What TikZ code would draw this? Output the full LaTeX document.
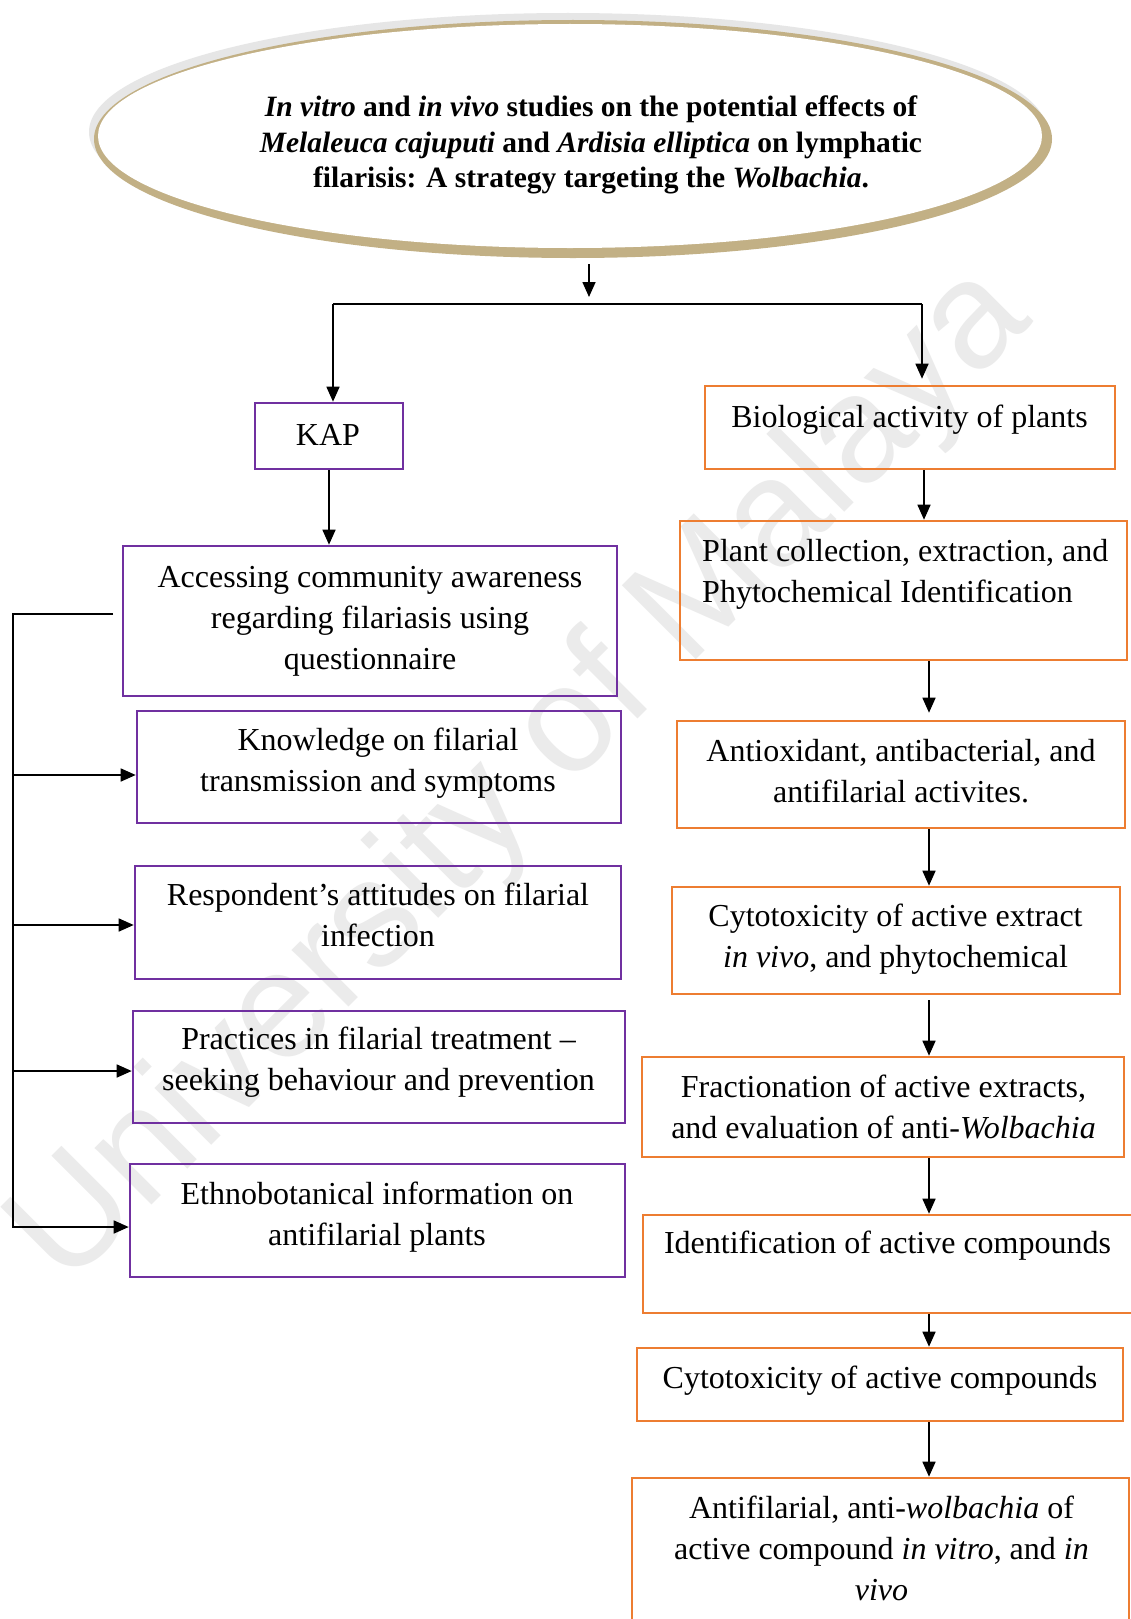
\documentclass[tikz,border=0pt]{standalone}
\usepackage{fontspec}
\setmainfont{Liberation Serif}
\newfontfamily\wmfont{Liberation Sans}
\usetikzlibrary{arrows.meta,shapes.geometric,calc}
\definecolor{kpurple}{HTML}{7030A0}
\definecolor{korange}{HTML}{ED7D31}
\definecolor{kgold}{HTML}{C2B085}
\definecolor{kgrey}{HTML}{E6E6E6}
\definecolor{kwm}{HTML}{EBEBEB}
\begin{document}
\begin{tikzpicture}[x=1pt,y=-1pt,
  pbox/.style={draw=kpurple,line width=2.6pt,rectangle,inner sep=0pt},
  obox/.style={draw=korange,line width=2.6pt,rectangle,inner sep=0pt},
  txt/.style={inner sep=0pt,align=center,font=\fontsize{32}{41}\selectfont},
  ttl/.style={inner sep=0pt,align=center,font=\fontsize{29.5}{35.5}\selectfont\bfseries},
  conn/.style={line width=1.6pt},
  arr/.style={line width=1.6pt,-{Triangle[width=13pt,length=15pt]}},
]
\fill[white] (0,0) rectangle (1131,1619);
\useasboundingbox (0,0) rectangle (1131,1619);

% watermark
\node[rotate=45,text=kwm,inner sep=0pt,font=\wmfont\fontsize{152}{152}\selectfont] (wm) at (523,778) {University of Malaya};

% title ellipse
\fill[kgrey] (568,132) ellipse [x radius=479, y radius=119];
\fill[kgold] (573,139) ellipse [x radius=479, y radius=119];
\node[ellipse,fill=white,minimum width=944pt,minimum height=224pt,inner sep=0pt] (title) at (570,136) {};
\node[ttl] (titlet) at (591,145) {\strut\textit{In vitro} and \textit{in vivo} studies on the potential effects of\\
\strut\textit{Melaleuca cajuputi} and \textit{Ardisia elliptica} on lymphatic\\
\strut filarisis: A strategy targeting the \textit{Wolbachia}.};

% left column boxes
\node[pbox,minimum width=148pt,minimum height=66pt] (kap) at (329,436) {};
\node[txt] (kapt) at (328,437) {\strut KAP};
\node[pbox,minimum width=494pt,minimum height=150pt] (acc) at (370,621) {};
\node[txt] (acct) at (370,620) {\strut Accessing community awareness\\\strut regarding filariasis using\\\strut questionnaire};
\node[pbox,minimum width=484pt,minimum height=112pt] (know) at (379,767) {};
\node[txt] (knowt) at (378,763) {\strut Knowledge on filarial\\\strut transmission and symptoms};
\node[pbox,minimum width=486pt,minimum height=113pt] (resp) at (378,922.5) {};
\node[txt] (respt) at (378,918) {\strut Respondent’s attitudes on filarial\\\strut infection};
\node[pbox,minimum width=492pt,minimum height=112pt] (prac) at (379,1067) {};
\node[txt] (pract) at (378.5,1062) {\strut Practices in filarial treatment --\\\strut seeking behaviour and prevention};
\node[pbox,minimum width=495pt,minimum height=113pt] (ethno) at (377.5,1220.5) {};
\node[txt] (ethnot) at (377,1217) {\strut Ethnobotanical information on\\\strut antifilarial plants};

% right column boxes
\node[obox,minimum width=410pt,minimum height=83pt] (bio) at (910,427.5) {};
\node[txt] (biot) at (909.5,419) {\strut Biological activity of plants};
\node[obox,minimum width=447pt,minimum height=139pt] (plant) at (903.5,590.5) {};
\node[txt,align=left,anchor=west] (plantt) at (702,574) {\strut Plant collection, extraction, and\\\strut Phytochemical Identification};
\node[obox,minimum width=448pt,minimum height=107pt] (antiox) at (901,774.5) {};
\node[txt] (antioxt) at (901,774) {\strut Antioxidant, antibacterial, and\\\strut antifilarial activites.};
\node[obox,minimum width=448pt,minimum height=107pt] (cytox) at (896,940.5) {};
\node[txt] (cytoxt) at (895.5,939) {\strut Cytotoxicity of active extract\\\strut\textit{in vivo}, and phytochemical};
\node[obox,minimum width=482pt,minimum height=100pt] (frac) at (883,1107) {};
\node[txt] (fract) at (883.5,1109.5) {\strut Fractionation of active extracts,\\\strut and evaluation of anti-\textit{Wolbachia}};
\node[obox,minimum width=497pt,minimum height=98pt] (ident) at (891.5,1264) {};
\node[txt] (identt) at (887.5,1245) {\strut Identification of active compounds};
\node[obox,minimum width=486pt,minimum height=73pt] (cyco) at (880,1384.5) {};
\node[txt] (cycot) at (880,1380) {\strut Cytotoxicity of active compounds};
\node[obox,minimum width=497pt,minimum height=162pt] (antif) at (880.5,1559) {};
\node[txt] (antift) at (881.5,1551) {\strut Antifilarial, anti-\textit{wolbachia} of\\\strut active compound \textit{in vitro}, and \textit{in}\\\strut\textit{vivo}};

% top connectors
\coordinate (topA) at (589,264);
\coordinate (topB) at (589,297);
\draw[arr] (topA) -- (topB);
\coordinate (hl) at (333,304);
\coordinate (hr) at (922,304);
\draw[conn] (hl) -- (hr);
\draw[arr] (hl) -- (hl |- kap.north);
\draw[arr,shorten >=6pt] (hr) -- (hr |- bio.north);
\draw[arr] (kap.south) -- (kap.south |- acc.north);

% left bracket
\coordinate (bt) at (13,614);
\coordinate (ba) at (113,614);
\coordinate (bb) at (13,1228);
\draw[conn] (ba) -- (bt) -- (bb);
\coordinate (kw) at ([yshift=-8pt]know.west);
\coordinate (rw) at ([yshift=-2.5pt]resp.west);
\coordinate (pw) at ([yshift=-4pt]prac.west);
\coordinate (ew) at ([yshift=-6.5pt]ethno.west);
\draw[arr] (kw -| bt) -- (kw);
\draw[arr] (rw -| bt) -- (rw);
\draw[arr] (pw -| bt) -- (pw);
\draw[arr] (ew -| bt) -- (ew);

% right chain
\coordinate (rc) at (929,0);
\draw[arr] ([xshift=-5pt]bio.south -| rc) -- ([xshift=-5pt]plant.north -| rc);
\draw[arr,shorten >=7pt] (plant.south -| rc) -- (antiox.north -| rc);
\draw[arr] (antiox.south -| rc) -- (cytox.north -| rc);
\draw[arr,shorten <=5pt] (cytox.south -| rc) -- (frac.north -| rc);
\draw[arr] (frac.south -| rc) -- (ident.north -| rc);
\draw[arr] (ident.south -| rc) -- (cyco.north -| rc);
\draw[arr] (cyco.south -| rc) -- (antif.north -| rc);
\end{tikzpicture}
\end{document}
